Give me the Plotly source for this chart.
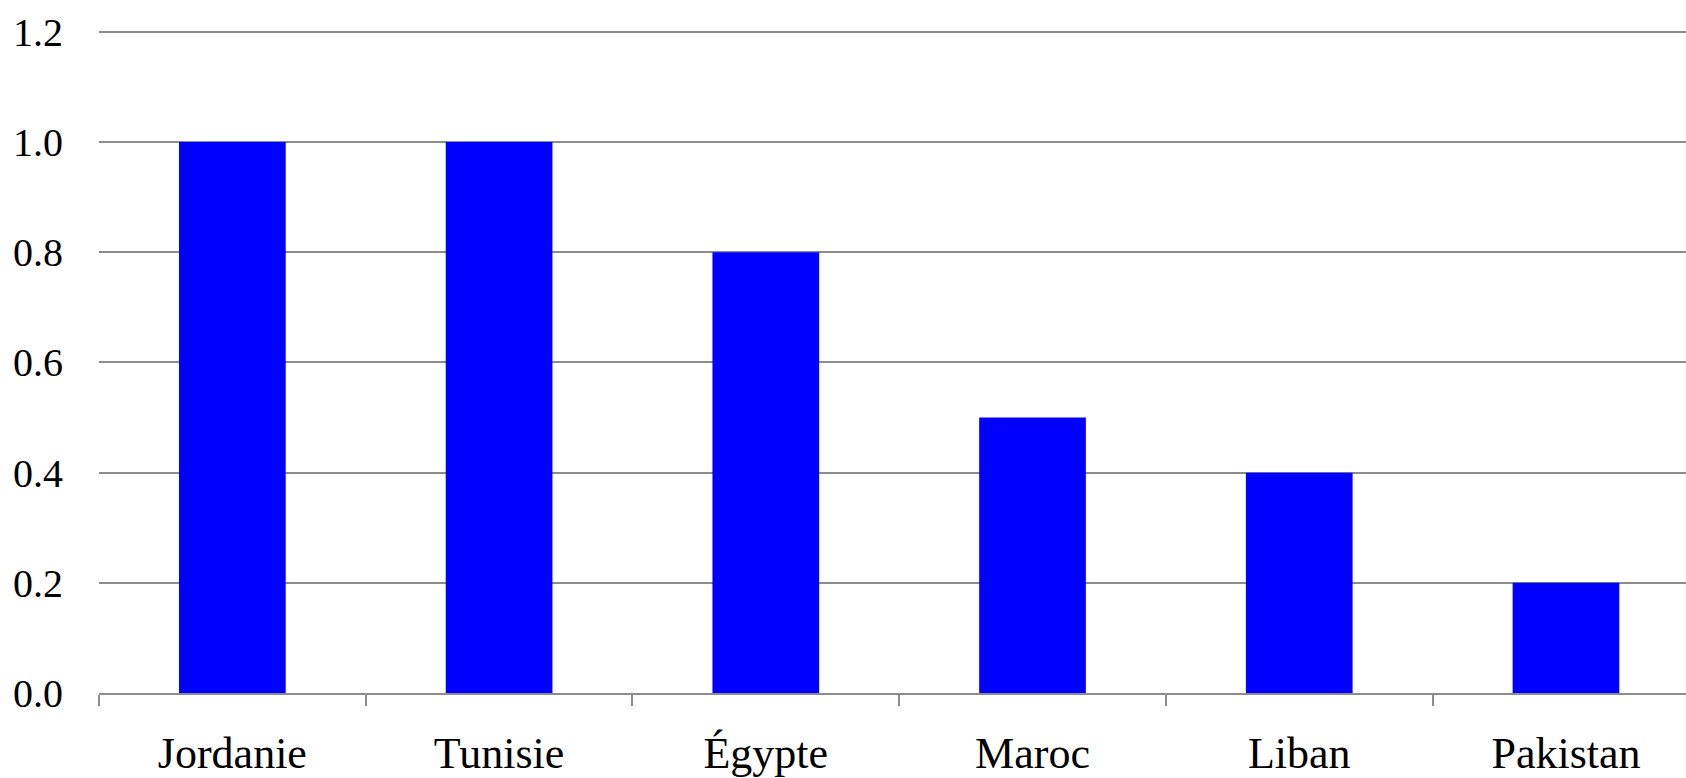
import plotly.graph_objects as go

countries = ["Jordanie", "Tunisie", "Égypte", "Maroc", "Liban", "Pakistan"]
values = [1.0, 1.0, 0.8, 0.5, 0.4, 0.2]
y_ticks = [0.0, 0.2, 0.4, 0.6, 0.8, 1.0, 1.2]

FONT = "Liberation Serif"
GRID = "#8c8c8c"

fig = go.Figure(
    go.Bar(
        x=countries,
        y=values,
        marker=dict(color="#0000ff", line=dict(width=0)),
    )
)

fig.update_layout(
    width=1686,
    height=778,
    margin=dict(l=99, r=0, t=30, b=82),
    paper_bgcolor="white",
    plot_bgcolor="white",
    bargap=0.6,
    showlegend=False,
    font=dict(family=FONT, size=40, color="black"),
)

fig.update_xaxes(
    type="category",
    range=[-0.5, 5.45],
    tickson="boundaries",
    ticks="outside",
    ticklen=11,
    tickwidth=1.5,
    tickcolor=GRID,
    showline=True,
    linecolor=GRID,
    linewidth=1.5,
    showgrid=False,
    tickfont=dict(family=FONT, size=44),
    ticklabelstandoff=20,
)

fig.update_yaxes(
    range=[0, 1.2035],
    tickvals=y_ticks,
    ticktext=[f"{v:.1f}" for v in y_ticks],
    showgrid=True,
    gridcolor=GRID,
    gridwidth=1.5,
    zeroline=False,
    showline=False,
    ticks="",
    tickfont=dict(family=FONT, size=40),
    ticklabelstandoff=35,
)

fig.write_html("out.html")
